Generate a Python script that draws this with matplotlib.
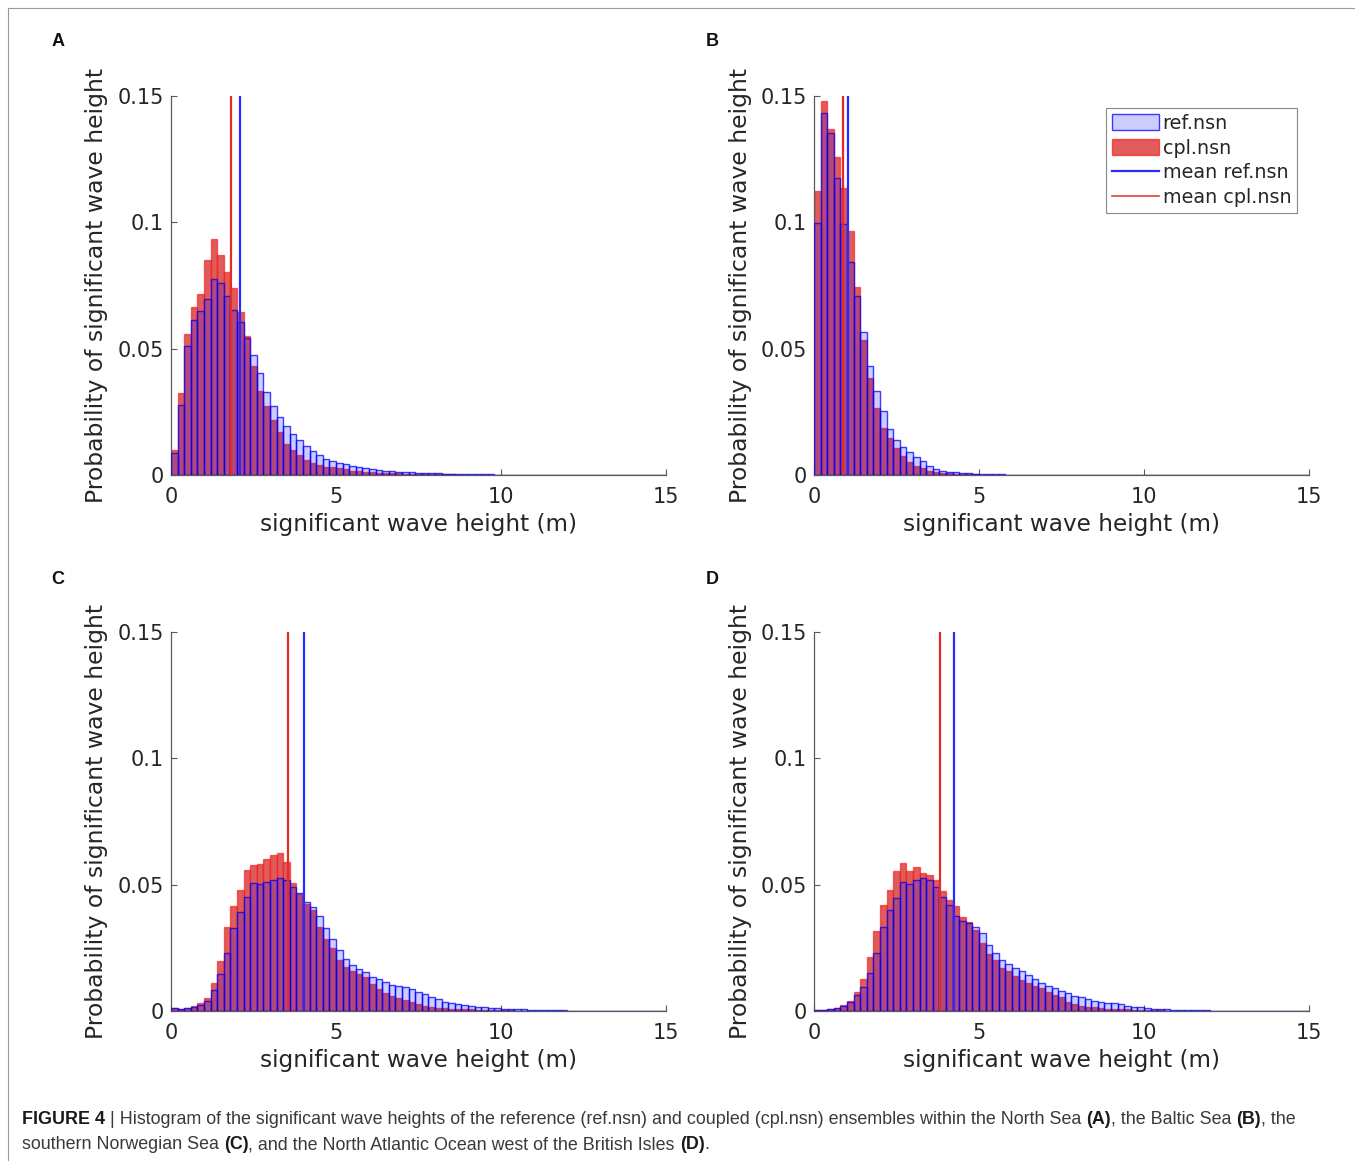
import numpy as np
import matplotlib
matplotlib.use("Agg")
import matplotlib.pyplot as plt
from matplotlib.patches import Patch, Rectangle
from matplotlib.lines import Line2D

# ---------------- data (probability per 0.2 m bin, starting at 0 m) ----------------
bin_width = 0.2
x_max = 15

a_ref = [0.0086, 0.0277, 0.0512, 0.0613, 0.0650, 0.0696, 0.0774, 0.0759, 0.0708, 0.0653,
         0.0607, 0.0541, 0.0475, 0.0405, 0.0330, 0.0273, 0.0231, 0.0194, 0.0162, 0.0138,
         0.0115, 0.0095, 0.0078, 0.0064, 0.0056, 0.0049, 0.0042, 0.0036, 0.0030, 0.0028,
         0.0024, 0.0020, 0.0017, 0.0016, 0.0013, 0.0012, 0.0011, 0.0009, 0.0008, 0.0007,
         0.0006, 0.0005, 0.0004, 0.0004, 0.0003, 0.0003, 0.0002, 0.0002, 0.0002, 0.0001,
         0.0001, 0.0001]
a_cpl = [0.0099, 0.0326, 0.0557, 0.0666, 0.0715, 0.0851, 0.0933, 0.0871, 0.0805, 0.0739,
         0.0644, 0.0550, 0.0433, 0.0334, 0.0274, 0.0218, 0.0169, 0.0123, 0.0099, 0.0079,
         0.0059, 0.0049, 0.0040, 0.0032, 0.0030, 0.0026, 0.0022, 0.0017, 0.0015, 0.0012,
         0.0011, 0.0009, 0.0008, 0.0007, 0.0006, 0.0005, 0.0004, 0.0004, 0.0003, 0.0003,
         0.0002, 0.0002, 0.0002, 0.0001, 0.0001]

b_ref = [0.0998, 0.1431, 0.1355, 0.1177, 0.0992, 0.0843, 0.0708, 0.0565, 0.0431, 0.0332,
         0.0253, 0.0181, 0.0139, 0.0112, 0.0091, 0.0071, 0.0057, 0.0036, 0.0024, 0.0017,
         0.0013, 0.0010, 0.0008, 0.0006, 0.0005, 0.0004, 0.0003, 0.0002, 0.0002, 0.0001,
         0.0001]
b_cpl = [0.1124, 0.1481, 0.1368, 0.1257, 0.1135, 0.0967, 0.0743, 0.0534, 0.0383, 0.0265,
         0.0185, 0.0145, 0.0106, 0.0077, 0.0053, 0.0036, 0.0026, 0.0017, 0.0013, 0.0009,
         0.0007, 0.0005, 0.0004, 0.0003, 0.0002, 0.0001]

c_ref = [0.0010, 0.0006, 0.0011, 0.0015, 0.0024, 0.0040, 0.0083, 0.0145, 0.0231, 0.0327,
         0.0391, 0.0452, 0.0505, 0.0503, 0.0512, 0.0518, 0.0525, 0.0518, 0.0491, 0.0467,
         0.0432, 0.0412, 0.0376, 0.0330, 0.0283, 0.0240, 0.0207, 0.0181, 0.0166, 0.0153,
         0.0136, 0.0126, 0.0114, 0.0104, 0.0100, 0.0096, 0.0087, 0.0077, 0.0066, 0.0057,
         0.0047, 0.0037, 0.0032, 0.0028, 0.0024, 0.0021, 0.0017, 0.0015, 0.0013, 0.0011,
         0.0009, 0.0008, 0.0007, 0.0006, 0.0005, 0.0004, 0.0003, 0.0003, 0.0002, 0.0002,
         0.0001, 0.0001]
c_cpl = [0.0011, 0.0008, 0.0011, 0.0020, 0.0030, 0.0050, 0.0110, 0.0199, 0.0333, 0.0415,
         0.0479, 0.0558, 0.0578, 0.0582, 0.0601, 0.0617, 0.0626, 0.0590, 0.0508, 0.0465,
         0.0425, 0.0398, 0.0333, 0.0284, 0.0248, 0.0201, 0.0175, 0.0157, 0.0145, 0.0133,
         0.0105, 0.0087, 0.0070, 0.0059, 0.0050, 0.0044, 0.0037, 0.0029, 0.0021, 0.0017,
         0.0013, 0.0011, 0.0009, 0.0008, 0.0007, 0.0006, 0.0005, 0.0004, 0.0003, 0.0003,
         0.0002, 0.0002, 0.0001, 0.0001]

d_ref = [0.0002, 0.0004, 0.0007, 0.0011, 0.0021, 0.0036, 0.0063, 0.0096, 0.0152, 0.0228,
         0.0333, 0.0398, 0.0448, 0.0511, 0.0503, 0.0517, 0.0525, 0.0517, 0.0490, 0.0452,
         0.0419, 0.0376, 0.0357, 0.0347, 0.0333, 0.0309, 0.0261, 0.0228, 0.0202, 0.0185,
         0.0169, 0.0159, 0.0142, 0.0125, 0.0110, 0.0100, 0.0090, 0.0080, 0.0070, 0.0059,
         0.0054, 0.0046, 0.0041, 0.0037, 0.0033, 0.0030, 0.0026, 0.0021, 0.0017, 0.0015,
         0.0012, 0.0009, 0.0007, 0.0006, 0.0005, 0.0004, 0.0003, 0.0003, 0.0002, 0.0002,
         0.0001, 0.0001, 0.0001]
d_cpl = [0.0002, 0.0004, 0.0008, 0.0013, 0.0023, 0.0040, 0.0074, 0.0127, 0.0215, 0.0318,
         0.0419, 0.0479, 0.0555, 0.0587, 0.0555, 0.0571, 0.0547, 0.0538, 0.0518, 0.0476,
         0.0439, 0.0415, 0.0373, 0.0353, 0.0320, 0.0271, 0.0227, 0.0202, 0.0171, 0.0159,
         0.0139, 0.0123, 0.0110, 0.0099, 0.0090, 0.0077, 0.0063, 0.0054, 0.0037, 0.0028,
         0.0021, 0.0017, 0.0015, 0.0012, 0.0009, 0.0008, 0.0007, 0.0006, 0.0005, 0.0004,
         0.0003, 0.0002, 0.0002, 0.0001]

mean_ref = {"A": 2.09, "B": 1.02, "C": 4.03, "D": 4.25}
mean_cpl = {"A": 1.82, "B": 0.89, "C": 3.55, "D": 3.82}

panel_labels = ["A", "B", "C", "D"]
xticks = [0, 5, 10, 15]
yticks = [0, 0.05, 0.1, 0.15]
ytick_labels = ["0", "0.05", "0.1", "0.15"]
xlabel = "significant wave height (m)"
ylabel = "Probability of significant wave height"
legend_labels = ["ref.nsn", "cpl.nsn", "mean ref.nsn", "mean cpl.nsn"]

# ---------------- figure ----------------
W, H = 1355, 1161
fig = plt.figure(figsize=(W / 100, H / 100), dpi=100)
fig.patch.set_facecolor("white")

edges = np.linspace(0, x_max, int(round(x_max / bin_width)) + 1)
nbins = len(edges) - 1


def pad(v):
    out = np.zeros(nbins)
    out[:len(v)] = v
    return out


panels = {
    "A": (a_ref, a_cpl, 171, 96, 58, 41),
    "B": (b_ref, b_cpl, 814, 96, 712, 41),
    "C": (c_ref, c_cpl, 171, 632, 58, 579),
    "D": (d_ref, d_cpl, 814, 632, 712, 579),
}
ax_w, ax_h = 495, 379

ref_face = (0.0, 0.0, 1.0, 0.2)
ref_edge = (0.0, 0.0, 1.0, 0.75)
cpl_face = (0.87, 0.36, 0.36, 1.0)
cpl_edge = (1.0, 0.0, 0.0, 0.55)
spine_col = "#5a5a5a"
txt_col = "#262626"

for key in panel_labels:
    ref, cpl, lx, ty, letter_x, letter_y = panels[key]
    ax = fig.add_axes([lx / W, 1 - (ty + ax_h) / H, ax_w / W, ax_h / H])
    ax.bar(edges[:-1], pad(cpl), width=bin_width, align="edge",
           facecolor=cpl_face, edgecolor=cpl_edge, linewidth=1.0, zorder=2)
    ax.bar(edges[:-1], pad(ref), width=bin_width, align="edge",
           facecolor=ref_face, edgecolor=ref_edge, linewidth=1.0, zorder=3)
    ax.plot([mean_ref[key]] * 2, [0, 0.15], color="#2a2aff", lw=1.6, zorder=4)
    ax.plot([mean_cpl[key]] * 2, [0, 0.15], color="#e52a2a", lw=1.6, zorder=4)
    ax.set_xlim(0, x_max)
    ax.set_ylim(0, 0.15)
    ax.set_xticks(xticks)
    ax.set_yticks(yticks)
    ax.set_yticklabels(ytick_labels)
    for s in ["top", "right"]:
        ax.spines[s].set_visible(False)
    for s in ["left", "bottom"]:
        ax.spines[s].set_color(spine_col)
        ax.spines[s].set_linewidth(0.9)
    ax.tick_params(direction="in", length=4, width=0.8, color=spine_col,
                   labelsize=15, labelcolor=txt_col)
    ax.tick_params(axis="x", pad=8.5)
    ax.tick_params(axis="y", pad=5)
    ax.set_facecolor("none")

    # axis labels
    fig.text((lx - 74) / W, 1 - (ty + ax_h / 2) / H, ylabel, rotation=90,
             ha="center", va="center", fontsize=16.9, color=txt_col)
    fig.text((lx + ax_w / 2) / W, 1 - (ty + 428) / H, xlabel,
             ha="center", va="center", fontsize=16.7, color=txt_col)
    # panel letter
    fig.text(letter_x / W, 1 - letter_y / H, key, ha="center", va="center",
             fontsize=13, fontweight="bold", family="Liberation Sans", color="#111111")

    if key == "B":
        handles = [
            Patch(facecolor=(0.8, 0.8, 1.0), edgecolor=(0, 0, 1, 0.75), linewidth=1.0),
            Patch(facecolor=cpl_face, edgecolor=(1, 0, 0, 0.6), linewidth=1.0),
            Line2D([], [], color="#2a2aff", lw=1.6),
            Line2D([], [], color="#e52a2a", lw=1.1),
        ]
        leg = ax.legend(handles, legend_labels, loc="upper right",
                        bbox_to_anchor=((1297 - lx) / ax_w, (ty + ax_h - 108) / ax_h),
                        borderaxespad=0, fontsize=13.8, frameon=True, fancybox=False,
                        framealpha=1, edgecolor="#888888", handlelength=2.45,
                        handleheight=0.95, handletextpad=0.2, labelspacing=0.3,
                        borderpad=0.3)
        leg.get_frame().set_linewidth(0.8)
        for t in leg.get_texts():
            t.set_color(txt_col)

# border around the figure
fig.add_artist(Rectangle((8 / W, -0.05), 1.2, 1 - 8 / H + 0.05, transform=fig.transFigure,
                         fill=False, edgecolor="#9a9a9a", linewidth=0.8))

# caption with bold segments
cap_lines = [
    [("FIGURE 4", True), (" | Histogram of the significant wave heights of the reference (ref.nsn) and coupled (cpl.nsn) ensembles within the North Sea ", False),
     ("(A)", True), (", the Baltic Sea ", False), ("(B)", True), (", the", False)],
    [("southern Norwegian Sea ", False), ("(C)", True),
     (", and the North Atlantic Ocean west of the British Isles ", False), ("(D)", True), (".", False)],
]
cap_baselines = [1124, 1149]
renderer = fig.canvas.get_renderer()
for segs, yb in zip(cap_lines, cap_baselines):
    x = 22.0
    for s, bold in segs:
        t = fig.text(x / W, 1 - yb / H, s, fontsize=12.9, family="Liberation Sans",
                     fontweight="bold" if bold else "normal",
                     color="#1a1a1a" if bold else "#3a3a3a", va="baseline", ha="left")
        bb = t.get_window_extent(renderer)
        x += bb.width

fig.savefig("out.png", dpi=100, facecolor="white")
